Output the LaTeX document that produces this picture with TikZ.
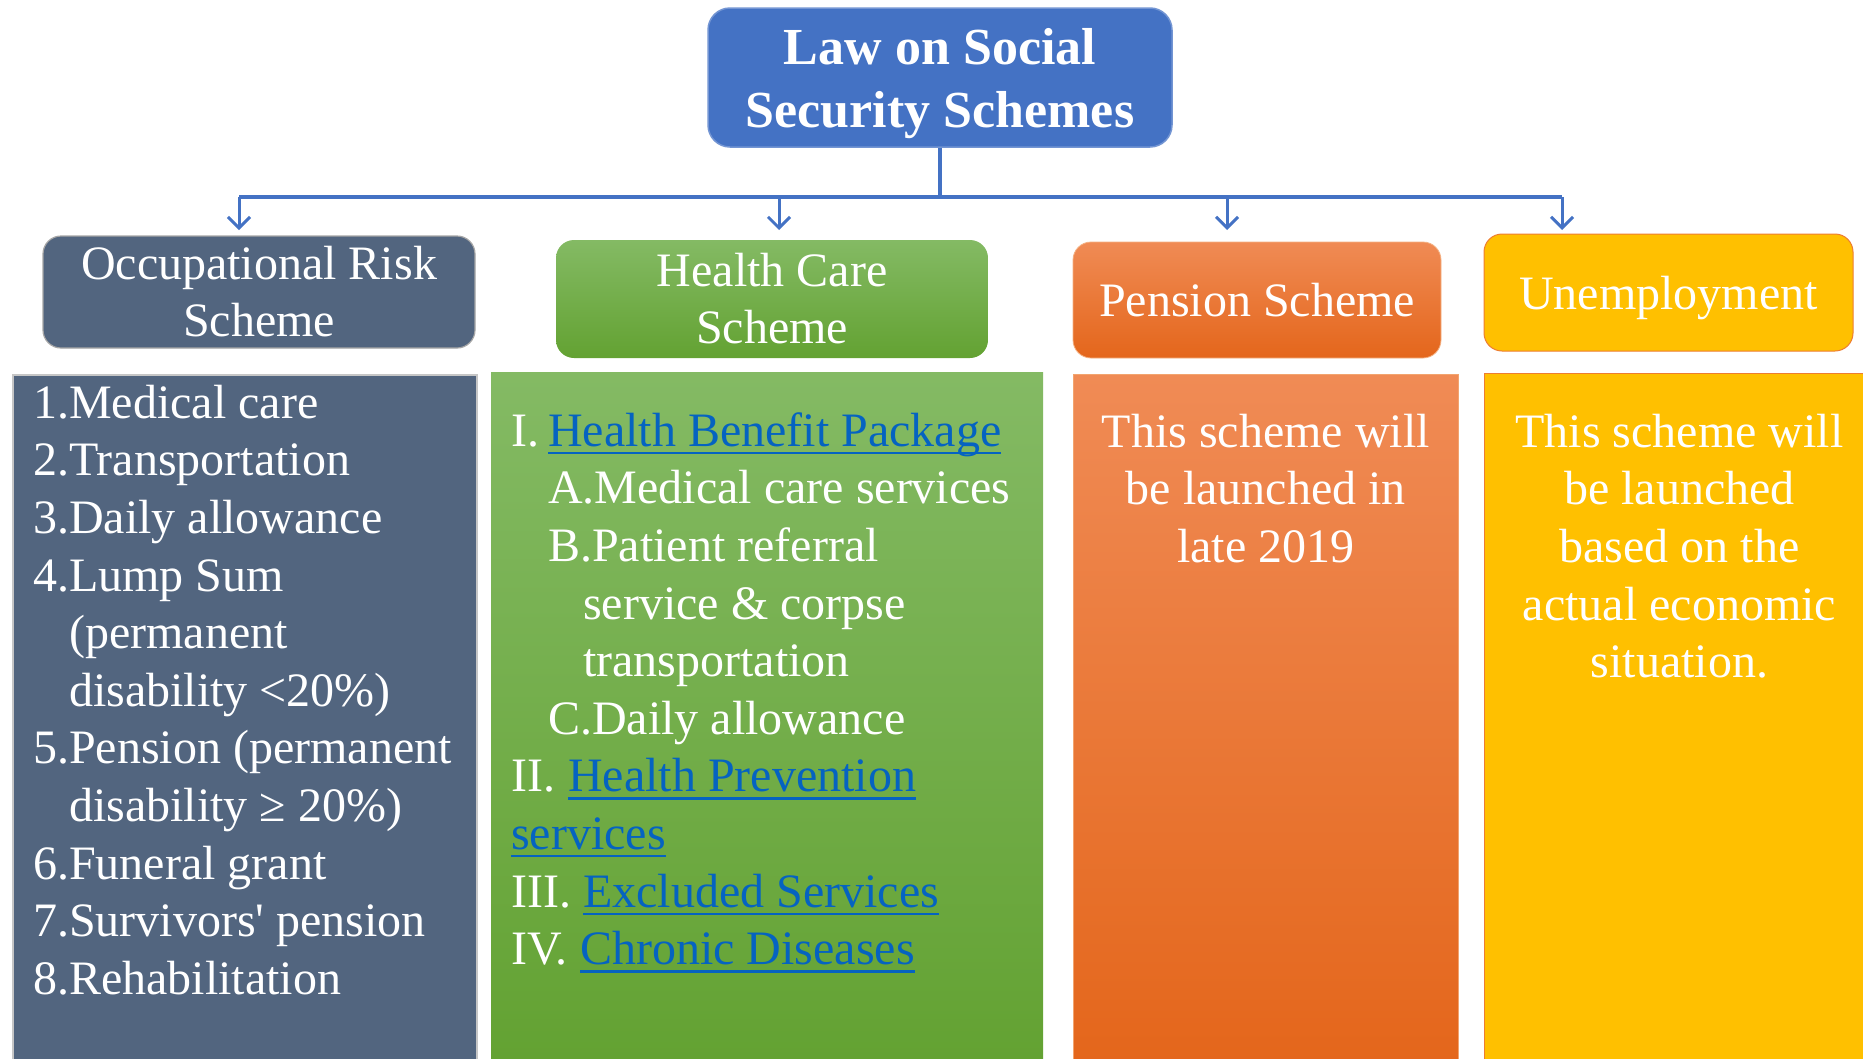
\documentclass[tikz,border=0pt]{standalone}
\usepackage{fontspec}
\setmainfont{Liberation Serif}
\usetikzlibrary{arrows.meta}
\definecolor{topblue}{HTML}{4472C4}
\definecolor{occfill}{HTML}{52657F}
\definecolor{linkblue}{HTML}{0563C1}
\definecolor{grtop}{HTML}{84BA64}
\definecolor{grbot}{HTML}{63A232}
\definecolor{ortop}{HTML}{F08B55}
\definecolor{ormid}{HTML}{F47E31}
\definecolor{orbot}{HTML}{E4661B}
\definecolor{yel}{HTML}{FFC000}
\definecolor{yelline}{HTML}{ED7D31}
\newcommand{\lnk}[1]{{\setbox0\hbox{\textcolor{linkblue}{#1}}\textcolor{linkblue}{\rlap{\rule[-8pt]{\wd0}{2.4pt}}}\box0}}
\newcommand{\bodyfont}{\fontsize{48}{57.6}\selectfont}
\newcommand{\firststrut}{\rule{0pt}{40pt}}
\tikzset{
  conn/.style={draw=topblue, line width=4.5pt},
  arr/.style={draw=topblue, line width=3pt, -{Straight Barb[length=11pt,width=22pt]}},
  titlebox/.style={fill=topblue, draw=topblue!75!white, line width=1.5pt, rounded corners=22pt,
    text=white, align=center, inner sep=0pt, text depth=0pt,
    font=\fontsize{52}{63}\selectfont\bfseries},
  hdr/.style={rounded corners=18pt, text=white, align=center, inner sep=0pt,
    font=\fontsize{48}{57}\selectfont},
  body/.style={anchor=north west, inner sep=0pt, minimum height=700pt},
  btext/.style={text=white, inner sep=0pt, font=\bodyfont},
}
\begin{document}
\begin{tikzpicture}[x=1pt,y=-1pt]
\useasboundingbox (0,0) rectangle (1863,1058);
\clip (0,0) rectangle (1863,1058);
% title
\node[titlebox, minimum width=464pt, minimum height=139pt] (top) at (940,77.5) {Law on Social\\Security Schemes};
% headers
\node[hdr, fill=occfill, draw=gray!70, line width=1.2pt, minimum width=432pt, minimum height=112pt] (occ) at (259,292) {Occupational Risk\\Scheme};
\node[hdr, top color=grtop, bottom color=grbot, minimum width=432pt, minimum height=118pt] (hc) at (772,299) {Health Care\\Scheme};
\node[hdr, top color=ortop, bottom color=orbot, draw=yelline!60!white, line width=0.8pt, minimum width=368pt, minimum height=116pt] (pen) at (1257,300) {Pension Scheme};
\node[hdr, fill=yel, draw=yelline, line width=1pt, text depth=0pt, minimum width=369pt, minimum height=117pt] (une) at (1668.5,292.5) {Unemployment};
% connectors
\coordinate (b1) at (239,197);
\coordinate (b2) at (779,197);
\coordinate (b3) at (1227,197);
\coordinate (b4) at (1562,197);
\coordinate (a1) at (239,230);
\coordinate (a2) at (779,230);
\coordinate (a3) at (1227,230);
\coordinate (a4) at (1562,230);
\draw[conn] (top.south) -- (top.south |- b1);
\draw[conn] (b1) -- (b4);
\draw[arr] (b1) -- (a1);
\draw[arr] (b2) -- (a2);
\draw[arr] (b3) -- (a3);
\draw[arr] (b4) -- (a4);
% bodies
\node[body, fill=occfill, draw=gray!45, line width=1.5pt, minimum width=464pt] (occb) at (12,374) {};
\node[body, top color=grtop, bottom color=grbot, minimum width=552pt, minimum height=690pt] (hcb) at (491,372) {};
\node[body, top color=ortop, middle color=ormid, bottom color=orbot, draw=yelline!70!white, line width=0.8pt, minimum width=385pt, minimum height=690pt] (penb) at (1073,374) {};
\node[body, fill=yel, draw=yelline, line width=1pt, minimum width=390pt] (uneb) at (1484,373) {};
% body texts
\node[btext, anchor=north west, align=left] (occt) at ([xshift=21pt,yshift=-4pt]occb.north west) {\firststrut 1.Medical care\\
2.Transportation\\
3.Daily allowance\\
4.Lump Sum\\
\hspace*{36pt}(permanent\\
\hspace*{36pt}disability <20\%)\\
5.Pension (permanent\\
\hspace*{36pt}disability ≥ 20\%)\\
6.Funeral grant\\
7.Survivors\textquotesingle{} pension\\
8.Rehabilitation};
\node[btext, anchor=north west, align=left] (hct) at ([xshift=20pt,yshift=-34pt]hcb.north west) {\firststrut\makebox[37pt][l]{I.}\lnk{Health Benefit Package}\\
\hspace*{37pt}A.Medical care services\\
\hspace*{37pt}B.Patient referral\\
\hspace*{72pt}service \& corpse\\
\hspace*{72pt}transportation\\
\hspace*{37pt}C.Daily allowance\\
\makebox[57pt][l]{II.}\lnk{Health Prevention}\\
\lnk{services}\\
\makebox[72pt][l]{III.}\lnk{Excluded Services}\\
\makebox[69pt][l]{IV.}\lnk{Chronic Diseases}};
\node[btext, anchor=north, align=center] (pent) at ([yshift=-33pt]penb.north) {\firststrut This scheme will\\be launched in\\late 2019};
\node[btext, anchor=north, align=center] (unet) at ([yshift=-34pt]uneb.north) {\firststrut This scheme will\\be launched\\based on the\\actual economic\\situation.};
\end{tikzpicture}
\end{document}
